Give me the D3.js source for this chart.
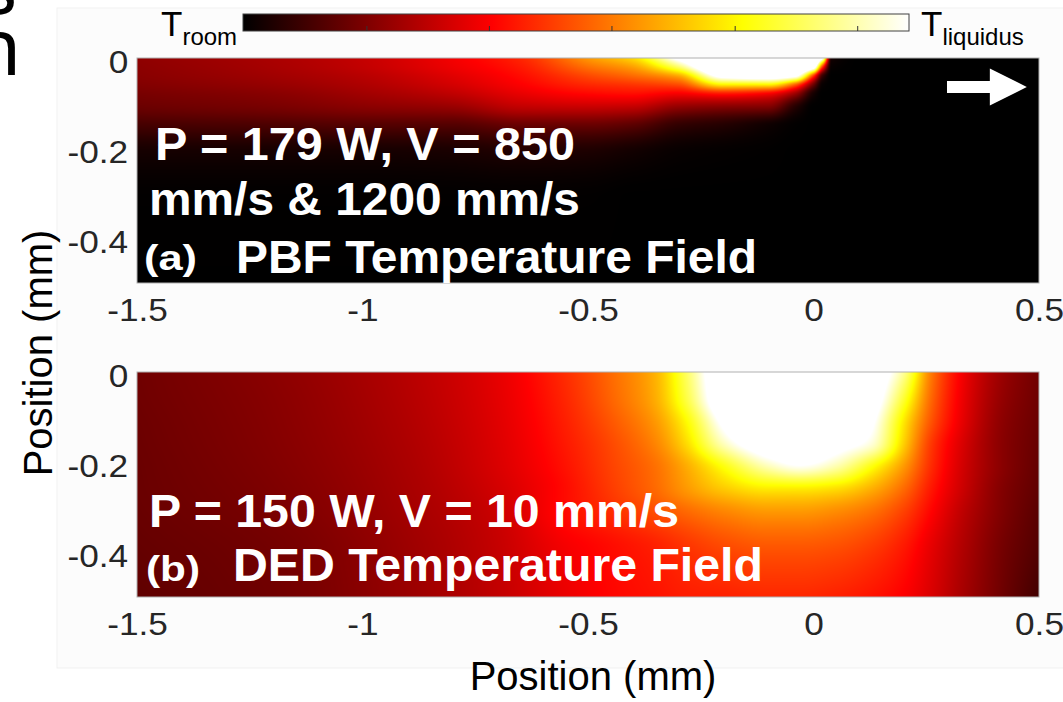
<!DOCTYPE html>
<html><head><meta charset="utf-8">
<script src="https://cdn.jsdelivr.net/npm/d3@7"></script>
<style>html,body{margin:0;padding:0;background:#fff;overflow:hidden}</style>
</head><body>
<svg id="chart" width="1063" height="702" xmlns="http://www.w3.org/2000/svg"></svg>
<script>
// ---------------- data ----------------
const xTicks = [-1.5, -1, -0.5, 0, 0.5];
const xTickLabels = ["-1.5", "-1", "-0.5", "0", "0.5"];
const yTicks = [0, -0.2, -0.4];
const yTickLabels = ["0", "-0.2", "-0.4"];
const colorbarTicks = [0.186, 0.37, 0.554, 0.739, 0.923];   // normalized (T - Troom)/(Tliq - Troom)
const hotStops = [0, 0.375, 0.75, 1];
const hotColors = ["#000000", "#ff0000", "#ffff00", "#ffffff"];

// PBF field: normalized temperature, rows = depth levels (pbfY), cols = pbfX
const pbfX = [-1.5, -1.2, -1.0, -0.8, -0.65, -0.5, -0.4, -0.3, -0.2, -0.1, -0.04, 0.0, 0.02, 0.04, 0.1, 0.5];
const pbfY = [0.01, -0.01, -0.03, -0.05, -0.07, -0.1, -0.14, -0.2, -0.3, -0.49];
const pbfT = [
  [0.21, 0.25, 0.29, 0.36, 0.43, 0.6, 0.7, 1.05, 1.35, 1.45, 1.4, 1.3, 1.05, 0.03, 0, 0],
  [0.205, 0.245, 0.285, 0.35, 0.41, 0.54, 0.61, 0.85, 1.25, 1.3, 1.25, 1.08, 0.45, 0.01, 0, 0],
  [0.2, 0.235, 0.27, 0.33, 0.39, 0.48, 0.53, 0.62, 1.05, 1.1, 1.02, 0.45, 0.08, 0, 0, 0],
  [0.19, 0.22, 0.255, 0.31, 0.37, 0.43, 0.45, 0.48, 0.72, 0.72, 0.5, 0.15, 0.01, 0, 0, 0],
  [0.175, 0.2, 0.235, 0.28, 0.34, 0.38, 0.39, 0.36, 0.4, 0.36, 0.22, 0.03, 0, 0, 0, 0],
  [0.155, 0.175, 0.2, 0.22, 0.28, 0.29, 0.28, 0.21, 0.19, 0.18, 0.05, 0, 0, 0, 0, 0],
  [0.1, 0.11, 0.12, 0.12, 0.15, 0.15, 0.13, 0.07, 0.05, 0.02, 0.003, 0, 0, 0, 0, 0],
  [0.03, 0.03, 0.03, 0.035, 0.045, 0.04, 0.025, 0.01, 0.005, 0.002, 0, 0, 0, 0, 0, 0],
  [0.003, 0.003, 0.003, 0.003, 0.004, 0.003, 0, 0, 0, 0, 0, 0, 0, 0, 0, 0],
  [0, 0, 0, 0, 0, 0, 0, 0, 0, 0, 0, 0, 0, 0, 0, 0]
];

// DED field
const dedX = [-1.5, -1.2, -0.9, -0.7, -0.55, -0.45, -0.35, -0.28, -0.2, -0.1, -0.03, 0.05, 0.13, 0.2, 0.26, 0.33, 0.42, 0.5];
const dedY = [0.01, -0.05, -0.1, -0.15, -0.2, -0.25, -0.3, -0.38, -0.49];
const dedT = [
  [0.165, 0.205, 0.27, 0.34, 0.44, 0.53, 0.64, 0.85, 1.15, 1.35, 1.4, 1.3, 1.12, 0.9, 0.56, 0.36, 0.225, 0.165],
  [0.163, 0.2, 0.265, 0.335, 0.43, 0.52, 0.63, 0.82, 1.12, 1.32, 1.37, 1.27, 1.08, 0.8, 0.53, 0.35, 0.215, 0.16],
  [0.16, 0.197, 0.26, 0.33, 0.42, 0.5, 0.6, 0.75, 1.03, 1.25, 1.3, 1.2, 1.02, 0.72, 0.5, 0.34, 0.205, 0.155],
  [0.158, 0.194, 0.255, 0.325, 0.41, 0.48, 0.57, 0.7, 0.93, 1.1, 1.15, 1.06, 0.96, 0.68, 0.46, 0.32, 0.2, 0.15],
  [0.156, 0.19, 0.25, 0.32, 0.4, 0.47, 0.54, 0.63, 0.76, 0.93, 0.99, 0.92, 0.76, 0.6, 0.44, 0.31, 0.2, 0.145],
  [0.155, 0.185, 0.245, 0.31, 0.39, 0.46, 0.53, 0.6, 0.67, 0.72, 0.72, 0.7, 0.63, 0.53, 0.41, 0.3, 0.19, 0.14],
  [0.153, 0.18, 0.24, 0.3, 0.39, 0.44, 0.49, 0.53, 0.57, 0.6, 0.6, 0.58, 0.54, 0.47, 0.38, 0.28, 0.185, 0.13],
  [0.148, 0.17, 0.23, 0.29, 0.36, 0.39, 0.42, 0.45, 0.48, 0.5, 0.5, 0.49, 0.46, 0.41, 0.34, 0.26, 0.17, 0.12],
  [0.14, 0.165, 0.225, 0.285, 0.345, 0.38, 0.4, 0.415, 0.42, 0.43, 0.43, 0.42, 0.4, 0.37, 0.32, 0.245, 0.16, 0.095]
];

// scan-direction arrow (data units, PBF panel)
const arrowX = [0.296, 0.391, 0.473];   // tail, head base, tip
const arrowY = -0.0544;
const arrowHalf = [0.0133, 0.041];      // shaft, head half heights

// ---------------- layout ----------------
const svg = d3.select("#chart");
const FONT = "'Liberation Sans', Arial, Helvetica, sans-serif";
const SX = 1.1;

const x = d3.scaleLinear().domain([-1.5, 0.5]).range([137, 1039]);
const yTop = d3.scaleLinear().domain([0.01, -0.49]).range([58, 283]);
const yBot = d3.scaleLinear().domain([0.01, -0.49]).range([372, 597]);
const color = d3.scaleLinear().domain(hotStops).range(hotColors).clamp(true);

// faint figure background
svg.append("rect").attr("x", 57).attr("y", 8).attr("width", 1010).attr("height", 660)
  .attr("fill", "#fcfcfc").attr("stroke", "#f1f1f1");

// LUT from the colour scale
const LUT_N = 1024;
const lut = d3.range(LUT_N).map(i => d3.rgb(color(i / (LUT_N - 1))));

function monoSlopes(xs, ys) {
  const n = xs.length, h = [], d = [], m = new Array(n);
  for (let i = 0; i < n - 1; i++) { h[i] = xs[i + 1] - xs[i]; d[i] = (ys[i + 1] - ys[i]) / h[i]; }
  m[0] = d[0]; m[n - 1] = d[n - 2];
  for (let i = 1; i < n - 1; i++) {
    if (d[i - 1] * d[i] <= 0) m[i] = 0;
    else {
      const w1 = 2 * h[i] + h[i - 1], w2 = h[i] + 2 * h[i - 1];
      m[i] = (w1 + w2) / (w1 / d[i - 1] + w2 / d[i]);
    }
  }
  return m;
}
function hermite(xs, ys, ms, v) {
  const n = xs.length;
  if (v <= xs[0]) return ys[0];
  if (v >= xs[n - 1]) return ys[n - 1];
  let i = 0;
  while (i < n - 2 && v > xs[i + 1]) i++;
  const h = xs[i + 1] - xs[i], t = (v - xs[i]) / h, t2 = t * t, t3 = t2 * t;
  return (2 * t3 - 3 * t2 + 1) * ys[i] + (t3 - 2 * t2 + t) * h * ms[i]
       + (-2 * t3 + 3 * t2) * ys[i + 1] + (t3 - t2) * h * ms[i + 1];
}

function drawField(xs, ys, grid, yScale) {
  const [x0, x1] = x.range(), [y0, y1] = yScale.range();
  const W = Math.round(x1 - x0), H = Math.round(y1 - y0);
  const depth = ys.map(v => -v);
  const rowM = grid.map(row => monoSlopes(xs, row));
  const cv = document.createElement("canvas");
  cv.width = W; cv.height = H;
  const ctx = cv.getContext("2d");
  const img = ctx.createImageData(W, H);
  for (let i = 0; i < W; i++) {
    const xv = x.invert(x0 + i + 0.5);
    const col = grid.map((row, r) => hermite(xs, row, rowM[r], xv));
    const cm = monoSlopes(depth, col);
    for (let j = 0; j < H; j++) {
      const yv = yScale.invert(y0 + j + 0.5);
      let t = hermite(depth, col, cm, -yv);
      t = Math.max(0, Math.min(1, t));
      const c = lut[Math.round(t * (LUT_N - 1))];
      const k = (j * W + i) * 4;
      img.data[k] = c.r; img.data[k + 1] = c.g; img.data[k + 2] = c.b; img.data[k + 3] = 255;
    }
  }
  ctx.putImageData(img, 0, 0);
  svg.append("image").attr("x", x0).attr("y", y0).attr("width", W).attr("height", H)
    .attr("preserveAspectRatio", "none").attr("href", cv.toDataURL());
  svg.append("rect").attr("x", x0).attr("y", y0).attr("width", W).attr("height", H)
    .attr("fill", "none").attr("stroke", "#b0b0b0").attr("stroke-width", 1);
}

drawField(pbfX, pbfY, pbfT, yTop);
drawField(dedX, dedY, dedT, yBot);

// axes
function styleAxis(g) {
  g.select(".domain").remove();
  g.selectAll("line").remove();
  g.selectAll("text").attr("font-family", FONT).attr("font-size", 32).attr("fill", "#262626")
    .attr("transform", `scale(${SX},1)`);
}
[[yTop, 283], [yBot, 597]].forEach(([ys, yb]) => {
  svg.append("g").attr("transform", `translate(0,${yb})`)
    .call(d3.axisBottom(x).tickValues(xTicks).tickFormat((d, i) => xTickLabels[i]).tickSize(0).tickPadding(15))
    .call(styleAxis);
  svg.append("g").attr("transform", `translate(137,0)`)
    .call(d3.axisLeft(ys).tickValues(yTicks).tickFormat((d, i) => yTickLabels[i]).tickSize(0).tickPadding(8))
    .call(styleAxis);
});

// axis labels
svg.append("text").attr("x", 593).attr("y", 690).attr("text-anchor", "middle")
  .attr("font-family", FONT).attr("font-size", 40).attr("fill", "#000").text("Position (mm)");
svg.append("text").attr("transform", "translate(52,353) rotate(-90)").attr("text-anchor", "middle")
  .attr("font-family", FONT).attr("font-size", 40).attr("fill", "#000").text("Position (mm)");

// arrow
const ap = [
  [arrowX[0], arrowY + arrowHalf[0]], [arrowX[1], arrowY + arrowHalf[0]], [arrowX[1], arrowY + arrowHalf[1]],
  [arrowX[2], arrowY], [arrowX[1], arrowY - arrowHalf[1]], [arrowX[1], arrowY - arrowHalf[0]],
  [arrowX[0], arrowY - arrowHalf[0]]
];
svg.append("polygon").attr("points", ap.map(p => [x(p[0]), yTop(p[1])].join(",")).join(" "))
  .attr("fill", "#fff");

// annotations
function label(txt, xx, yy, size, len) {
  const t = svg.append("text").attr("x", xx).attr("y", yy).attr("font-family", FONT)
    .attr("font-weight", "bold").attr("font-size", size).attr("fill", "#fff").text(txt);
  if (len) t.attr("textLength", len).attr("lengthAdjust", "spacingAndGlyphs");
}
label("P = 179 W, V = 850", 155, 160, 46, 420);
label("mm/s & 1200 mm/s", 149, 215, 46, 431);
label("(a)", 144, 270, 35, 53);
label("PBF Temperature Field", 236, 273, 46, 521);
label("P = 150 W, V = 10 mm/s", 149, 527, 46, 530);
label("(b)", 146, 581, 35, 54);
label("DED Temperature Field", 233, 581, 46, 530);

// colorbar
const cb = { x0: 243, x1: 909, y0: 14, y1: 31 };
const cbx = d3.scaleLinear().domain([0, 1]).range([cb.x0, cb.x1]);
const grad = svg.append("defs").append("linearGradient").attr("id", "hotgrad");
hotStops.forEach((s, i) => grad.append("stop").attr("offset", s).attr("stop-color", hotColors[i]));
svg.append("rect").attr("x", cb.x0).attr("y", cb.y0).attr("width", cb.x1 - cb.x0).attr("height", cb.y1 - cb.y0)
  .attr("fill", "url(#hotgrad)").attr("stroke", "#404040").attr("stroke-width", 1);
svg.selectAll(".cbt").data(colorbarTicks).join("line").attr("class", "cbt")
  .attr("x1", d => cbx(d)).attr("x2", d => cbx(d)).attr("y1", cb.y1).attr("y2", cb.y1 - 5)
  .attr("stroke", "#333").attr("stroke-width", 1);

function tlabel(sub, xx) {
  const t = svg.append("text").attr("x", xx).attr("y", 36).attr("font-family", FONT).attr("fill", "#000");
  t.append("tspan").attr("font-size", 35).text("T");
  t.append("tspan").attr("font-size", 24).attr("dy", 9).text(sub);
}
tlabel("room", 161);
tlabel("liquidus", 921);

// cut-off text from the neighbouring slide (one text element)
const frag = svg.append("text").attr("font-family", "'Noto Sans', sans-serif")
  .attr("font-size", 78).attr("fill", "#000");
frag.append("tspan").attr("x", -20).attr("y", 14).text("s");
frag.append("tspan").attr("x", -27).attr("y", 75).text("n");
</script>
</body></html>
